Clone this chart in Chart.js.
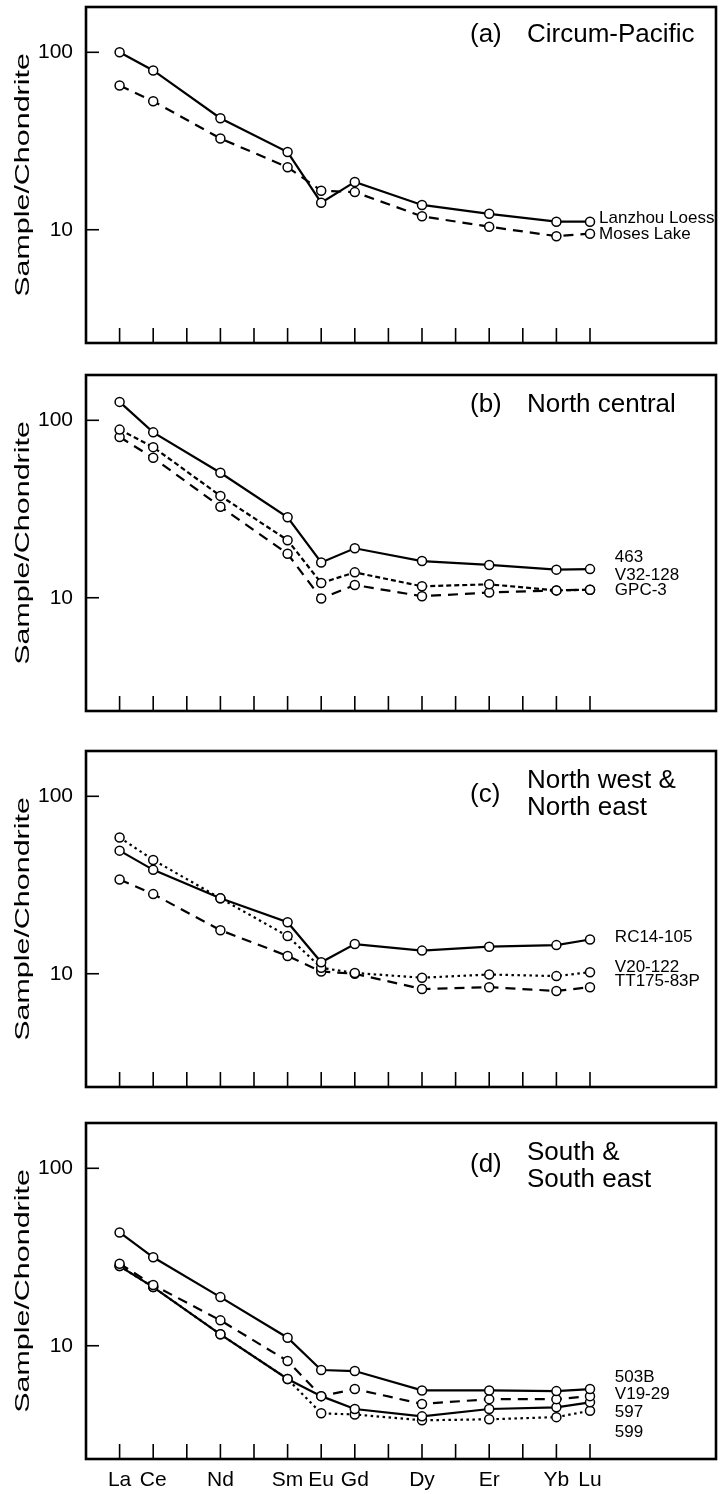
<!DOCTYPE html>
<html>
<head>
<meta charset="utf-8">
<script src="https://cdn.jsdelivr.net/npm/chart.js@4.4.1/dist/chart.umd.min.js"></script>
<style>
  html, body { margin: 0; padding: 0; background: #fff; }
  #wrap { position: relative; width: 722px; height: 1494px; overflow: hidden; }
  canvas { position: absolute; left: 0; }
</style>
</head>
<body>
<div id="wrap">
  <canvas id="panel-a" width="722" height="352" style="top:0px"></canvas>
  <canvas id="panel-b" width="722" height="352" style="top:368px"></canvas>
  <canvas id="panel-c" width="722" height="352" style="top:744px"></canvas>
  <canvas id="panel-d" width="722" height="378" style="top:1116px"></canvas>
</div>
<script>
// rare earth element slots on the x axis, and the ones that were measured
const ree = ['La', 'Ce', 'Pr', 'Nd', 'Pm', 'Sm', 'Eu', 'Gd', 'Tb', 'Dy', 'Ho', 'Er', 'Tm', 'Yb', 'Lu'];
const elements = ['La', 'Ce', 'Nd', 'Sm', 'Eu', 'Gd', 'Dy', 'Er', 'Yb', 'Lu'];
const yTicks = [10, 100];

// (a) Circum-Pacific
const lanzhouLoess = [100, 79, 42.5, 27.4, 14.2, 18.6, 13.8, 12.3, 11.1, 11.1];
const mosesLake = [65, 53, 32.7, 22.5, 16.6, 16.3, 11.9, 10.4, 9.2, 9.5];
// (b) North central
const s463 = [127, 85.5, 50.6, 28.4, 15.8, 19.0, 16.1, 15.3, 14.4, 14.5];
const v32_128 = [88.6, 70.6, 37.5, 21.1, 12.1, 13.9, 11.6, 11.9, 11.0, 11.1];
const gpc3 = [80.5, 61.5, 32.6, 17.7, 9.9, 11.8, 10.2, 10.7, 11.0, 11.1];
// (c) North west & North east
const rc14_105 = [49.4, 38.5, 26.6, 19.5, 11.6, 14.7, 13.5, 14.2, 14.5, 15.6];
const v20_122 = [58.6, 43.8, 26.6, 16.3, 10.8, 10.1, 9.5, 9.9, 9.7, 10.2];
const tt175_83p = [34, 28.1, 17.6, 12.6, 10.3, 10.0, 8.2, 8.4, 8.0, 8.4];
// (d) South & South east
const s503b = [43.5, 31.5, 18.8, 11.1, 7.3, 7.2, 5.6, 5.6, 5.55, 5.7];
const v19_29 = [29, 22, 13.9, 8.2, 5.2, 5.7, 4.7, 5.0, 5.0, 5.2];
const s597 = [28.1, 21.4, 11.6, 6.5, 5.2, 4.4, 4.0, 4.4, 4.5, 4.8];
const s599 = [28.1, 21.4, 11.6, 6.5, 4.16, 4.1, 3.8, 3.85, 3.96, 4.3];

const FONT = '"Liberation Sans", Arial, Helvetica, sans-serif';
const DASH = { solid: [], dash: [10, 7], short: [5, 3], dot: [2.5, 3.5] };

function points(values) {
  return values.map((v, i) => ({ x: ree.indexOf(elements[i]), y: v }));
}

function series(values, style) {
  return {
    data: points(values),
    borderColor: '#000',
    borderWidth: 2.2,
    borderDash: DASH[style],
    pointRadius: 4.5,
    pointHoverRadius: 4.5,
    pointBorderWidth: 1.5,
    pointBackgroundColor: '#fff',
    pointBorderColor: '#000',
    tension: 0,
    fill: false,
    clip: false
  };
}

// frame, inward ticks, axis title, panel title and line names
const panelDecor = {
  id: 'panelDecor',
  afterDraw(chart, args, opts) {
    const { ctx, chartArea: a } = chart;
    const x = chart.scales.x;
    const y = chart.scales.y;
    ctx.save();
    ctx.strokeStyle = '#000';
    ctx.lineWidth = 1.6;
    ree.forEach((_, i) => {
      const px = x.getPixelForValue(i);
      ctx.beginPath();
      ctx.moveTo(px, a.bottom);
      ctx.lineTo(px, a.bottom - 15);
      ctx.stroke();
    });
    yTicks.forEach(v => {
      const py = y.getPixelForValue(v);
      ctx.beginPath();
      ctx.moveTo(a.left, py);
      ctx.lineTo(a.left + 13, py);
      ctx.stroke();
    });
    ctx.lineWidth = 2.6;
    ctx.strokeRect(a.left, a.top, a.right - a.left, a.bottom - a.top);

    ctx.fillStyle = '#000';
    ctx.textBaseline = 'middle';

    // y axis title, drawn tall like the scanned figure
    ctx.save();
    ctx.translate(23, (a.top + a.bottom) / 2);
    ctx.rotate(-Math.PI / 2);
    ctx.scale(1.45, 1);
    ctx.textAlign = 'center';
    ctx.font = '21px ' + FONT;
    ctx.fillText('Sample/Chondrite', 0, 0);
    ctx.restore();

    ctx.textAlign = 'left';
    ctx.font = '26px ' + FONT;
    ctx.fillText(opts.tag, 470, a.top + opts.tagDy);
    opts.title.forEach((t, k) => ctx.fillText(t, 527, a.top + opts.titleDy + k * 27));

    ctx.font = '17px ' + FONT;
    opts.names.forEach(n => {
      ctx.fillText(n.text, x.getPixelForValue(opts.nameX), y.getPixelForValue(n.at));
    });
    ctx.restore();
  }
};

function makePanel(id, datasets, decor, showX) {
  new Chart(document.getElementById(id), {
    type: 'line',
    data: { datasets: datasets },
    options: {
      responsive: false,
      animation: false,
      events: [],
      layout: { padding: { left: 0, right: 4, top: 7, bottom: showX ? 0 : 9 } },
      plugins: {
        legend: { display: false },
        tooltip: { enabled: false },
        panelDecor: decor
      },
      scales: {
        x: {
          type: 'linear',
          min: -1,
          max: 17.75,
          display: showX,
          grid: { display: false, drawTicks: false },
          border: { display: false },
          afterBuildTicks: s => { s.ticks = ree.map((_, i) => ({ value: i })); },
          afterFit: s => {
            if (showX) s.height = 35;
            s.paddingLeft = 0;
            s.paddingRight = 0;
          },
          ticks: {
            autoSkip: false,
            maxRotation: 0,
            padding: 9,
            color: '#000',
            font: { family: FONT, size: 21 },
            callback: v => (elements.includes(ree[v]) ? ree[v] : '')
          }
        },
        y: {
          type: 'logarithmic',
          min: 2.3,
          max: 180,
          grid: { display: false, drawTicks: false },
          border: { display: false },
          afterBuildTicks: s => { s.ticks = yTicks.map(v => ({ value: v })); },
          afterFit: s => {
            s.width = 86;
            s.paddingTop = 0;
            s.paddingBottom = 0;
          },
          ticks: {
            padding: 13,
            color: '#000',
            font: { family: FONT, size: 21 },
            callback: v => String(v)
          }
        }
      }
    },
    plugins: [panelDecor]
  });
}

makePanel('panel-a',
  [series(lanzhouLoess, 'solid'), series(mosesLake, 'dash')],
  {
    tag: '(a)', tagDy: 28, title: ['Circum-Pacific'], titleDy: 28,
    nameX: 14.27,
    names: [{ text: 'Lanzhou Loess', at: 11.6 }, { text: 'Moses Lake', at: 9.4 }]
  }, false);

makePanel('panel-b',
  [series(s463, 'solid'), series(v32_128, 'short'), series(gpc3, 'dash')],
  {
    tag: '(b)', tagDy: 30, title: ['North central'], titleDy: 30,
    nameX: 14.74,
    names: [{ text: '463', at: 16.8 }, { text: 'V32-128', at: 13.4 }, { text: 'GPC-3', at: 11.0 }]
  }, false);

makePanel('panel-c',
  [series(rc14_105, 'solid'), series(v20_122, 'dot'), series(tt175_83p, 'dash')],
  {
    tag: '(c)', tagDy: 44, title: ['North west &', 'North east'], titleDy: 30,
    nameX: 14.74,
    names: [{ text: 'RC14-105', at: 16.1 }, { text: 'V20-122', at: 10.9 }, { text: 'TT175-83P', at: 9.06 }]
  }, false);

makePanel('panel-d',
  [series(s503b, 'solid'), series(v19_29, 'dash'), series(s597, 'solid'), series(s599, 'dot')],
  {
    tag: '(d)', tagDy: 42, title: ['South &', 'South east'], titleDy: 30,
    nameX: 14.74,
    names: [{ text: '503B', at: 6.62 }, { text: 'V19-29', at: 5.3 }, { text: '597', at: 4.2 }, { text: '599', at: 3.26 }]
  }, true);
</script>
</body>
</html>
